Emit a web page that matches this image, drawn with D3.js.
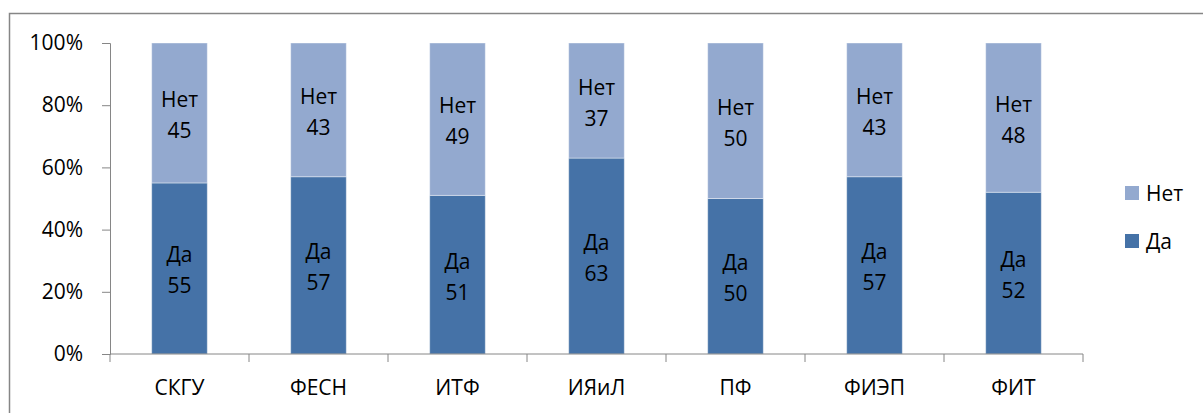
<!DOCTYPE html>
<html>
<head>
<meta charset="utf-8">
<script src="https://cdn.jsdelivr.net/npm/d3@7"></script>
<style>
  body { margin: 0; background: #fff; }
  text { font-family: "Open Sans", sans-serif; fill: #000; }
</style>
</head>
<body>
<svg id="chart" width="1203" height="413"></svg>
<script>
// chart data
var categories = ["СКГУ", "ФЕСН", "ИТФ", "ИЯиЛ", "ПФ", "ФИЭП", "ФИТ"];
var yes = [55, 57, 51, 63, 50, 57, 52];
var no = [45, 43, 49, 37, 50, 43, 48];
var seriesNames = ["Да", "Нет"];
var colors = ["#4572a7", "#93a9cf"];
var yTicks = [0, 20, 40, 60, 80, 100];

var svg = d3.select("#chart");
var fontSize = "21px";

// outer frame (right and bottom edges fall outside the picture)
svg.append("rect")
  .attr("x", 9.5).attr("y", 13.5)
  .attr("width", 1210).attr("height", 420)
  .attr("fill", "none").attr("stroke", "#868686").attr("stroke-width", 1.5);

var plotLeft = 110, plotRight = 1083, plotTop = 43, plotBottom = 354;

var x = d3.scaleBand().domain(categories).range([plotLeft, plotRight]).paddingInner(0.6).paddingOuter(0.3);
var y = d3.scaleLinear().domain([0, 100]).range([plotBottom, plotTop]);

var rows = categories.map(function(c, i){
  var tot = yes[i] + no[i];
  return { cat: c, Да: yes[i] / tot * 100, Нет: no[i] / tot * 100, vals: [yes[i], no[i]] };
});
var stacked = d3.stack().keys(seriesNames)(rows);

var g = svg.append("g");
stacked.forEach(function(layer, si){
  g.selectAll(null).data(layer).enter().append("rect")
    .attr("x", function(d){ return x(d.data.cat) })
    .attr("y", function(d){ return y(d[1]) })
    .attr("width", x.bandwidth())
    .attr("height", function(d){ return y(d[0]) - y(d[1]) })
    .attr("fill", colors[si])
    .attr("stroke", "#fff").attr("stroke-opacity", 0.4).attr("stroke-width", 1);

  // data labels: series name + value
  var lab = g.selectAll(null).data(layer).enter().append("text")
    .attr("text-anchor", "middle")
    .attr("transform", function(d){
      var cx = x(d.data.cat) + x.bandwidth() / 2;
      var cy = (y(d[0]) + y(d[1])) / 2;
      return "translate(" + cx + "," + cy + ")";
    })
    .style("font-size", fontSize);
  lab.append("tspan").attr("x", 0).attr("y", -6).text(seriesNames[si]);
  lab.append("tspan").attr("x", 0).attr("y", 25).text(function(d){ return d.data.vals[si] });
});

// y axis
var yAxis = d3.axisLeft(y).tickValues(yTicks).tickFormat(function(d){ return d + "%" }).tickSizeOuter(0).tickSize(8).tickPadding(19);
var ya = svg.append("g").attr("transform", "translate(" + plotLeft + ",0)").call(yAxis);
ya.select(".domain").attr("stroke", "#868686");
ya.selectAll(".tick line").attr("stroke", "#868686");
ya.selectAll("text").style("font-size", fontSize).style("font-family", "Open Sans").attr("fill", "#000");

// x axis with boundary ticks
var xa = svg.append("g").attr("transform", "translate(0," + plotBottom + ")");
xa.append("line").attr("x1", plotLeft).attr("x2", plotRight).attr("stroke", "#868686");
var step = (plotRight - plotLeft) / categories.length;
xa.selectAll(null).data(d3.range(categories.length + 1)).enter().append("line")
  .attr("x1", function(i){ return plotLeft + i * step }).attr("x2", function(i){ return plotLeft + i * step })
  .attr("y1", 0).attr("y2", 8).attr("stroke", "#868686");
xa.selectAll(null).data(categories).enter().append("text")
  .attr("x", function(d){ return x(d) + x.bandwidth() / 2 })
  .attr("y", 41).attr("text-anchor", "middle").style("font-size", fontSize)
  .text(function(d){ return d });

// legend
var legend = svg.append("g").attr("transform", "translate(1125,0)");
var legendItems = [{ name: "Нет", color: colors[1], y: 193 }, { name: "Да", color: colors[0], y: 241 }];
legendItems.forEach(function(it){
  legend.append("rect").attr("x", 0).attr("y", it.y - 7).attr("width", 14).attr("height", 14).attr("fill", it.color);
  legend.append("text").attr("x", 21).attr("y", it.y + 8).style("font-size", fontSize).text(it.name);
});
</script>
</body>
</html>
